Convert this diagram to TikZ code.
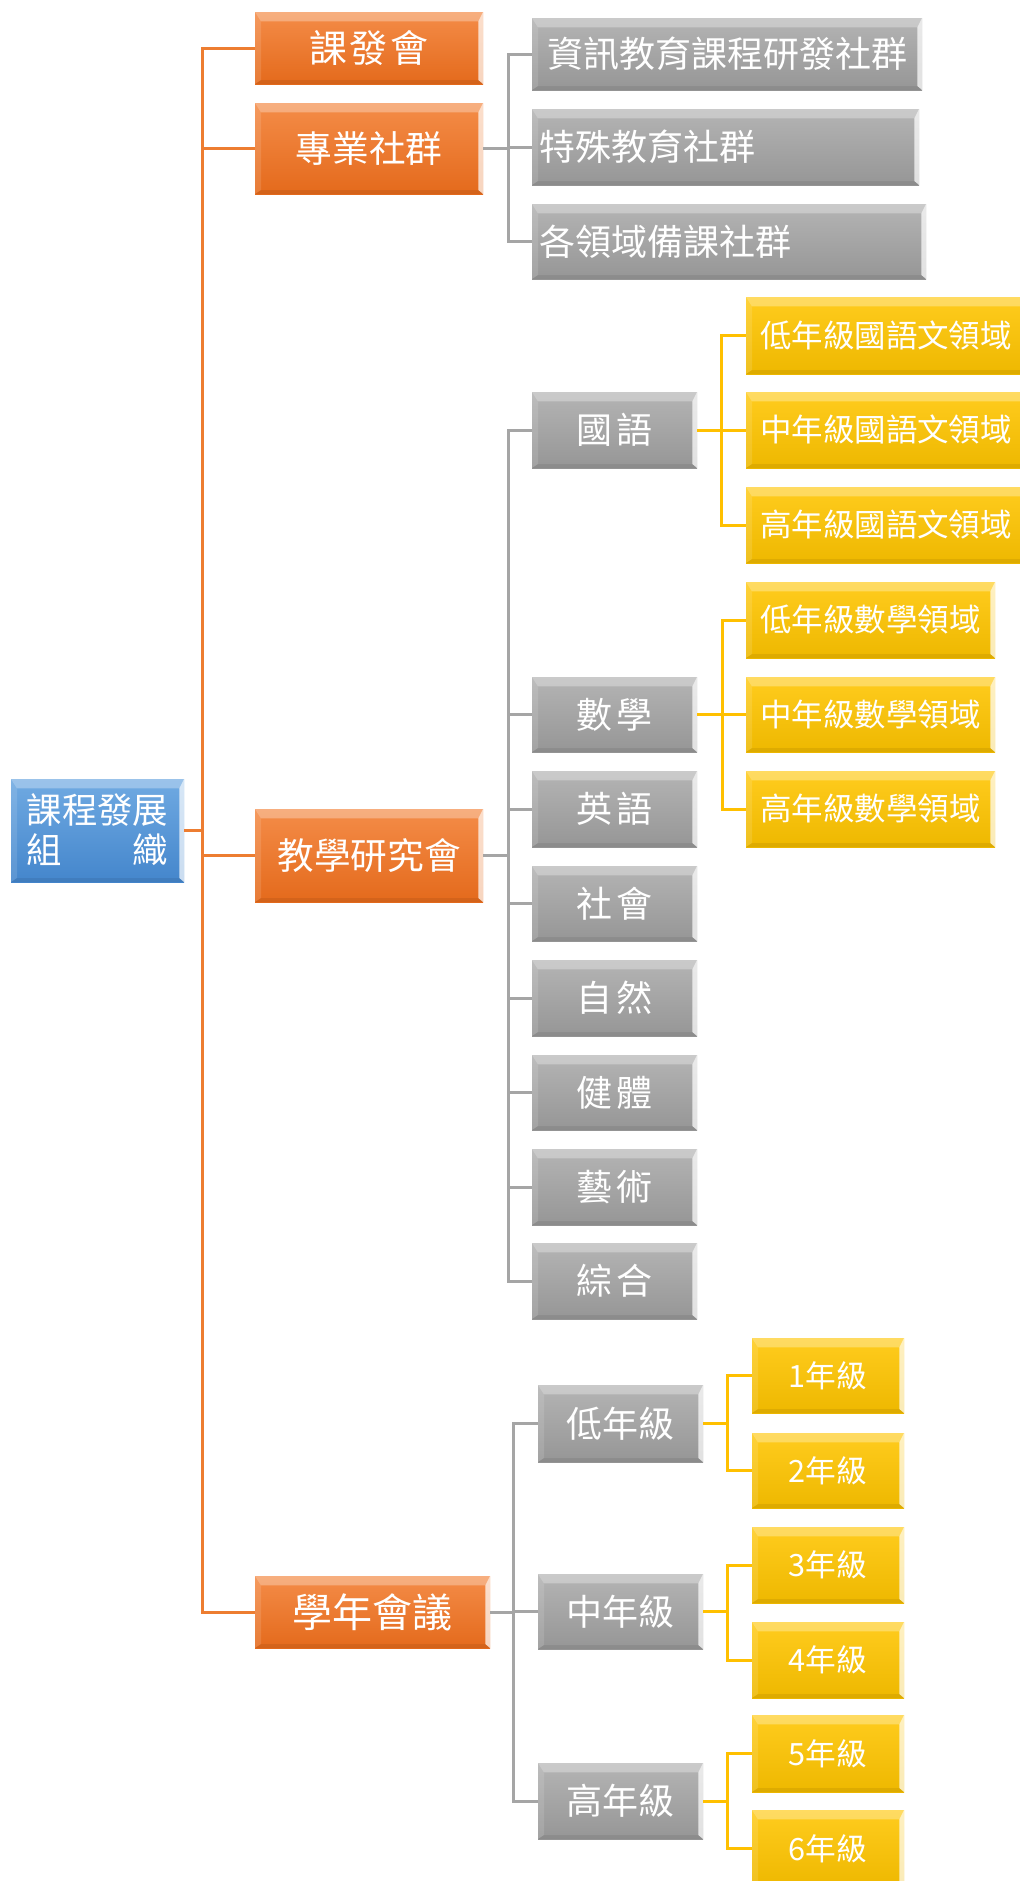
\documentclass[tikz,border=0pt]{standalone}
\usepackage{fontspec}
\newfontfamily\cjk{Noto Sans CJK TC}
\definecolor{oTop}{RGB}{244,140,72}
\definecolor{oBot}{RGB}{228,106,28}
\definecolor{gTop}{RGB}{180,180,180}
\definecolor{gBot}{RGB}{150,150,150}
\definecolor{yTop}{RGB}{255,204,30}
\definecolor{yBot}{RGB}{238,184,0}
\definecolor{bTop}{RGB}{112,170,226}
\definecolor{bBot}{RGB}{68,134,204}
\definecolor{oLine}{RGB}{237,125,49}
\definecolor{gLine}{RGB}{165,165,165}
\definecolor{yLine}{RGB}{255,192,0}
\tikzset{
  bevel/.style={path picture={
    \path (path picture bounding box.north west) coordinate (bvNW)
          (path picture bounding box.north east) coordinate (bvNE)
          (path picture bounding box.south west) coordinate (bvSW)
          (path picture bounding box.south east) coordinate (bvSE);
    \fill[white,opacity=.30] (bvNW) -- (bvNE) -- ([shift={(-3.5pt,-7pt)}]bvNE) -- ([shift={(4.5pt,-7pt)}]bvNW) -- cycle;
    \fill[white,opacity=.12] (bvNW) -- ([shift={(4.5pt,-7pt)}]bvNW) -- ([shift={(4.5pt,3pt)}]bvSW) -- (bvSW) -- cycle;
    \fill[white,opacity=.72] (bvNE) -- ([shift={(-3.5pt,-7pt)}]bvNE) -- ([shift={(-3.5pt,3pt)}]bvSE) -- (bvSE) -- cycle;
    \fill[black,opacity=.07] (bvSW) -- ([shift={(4.5pt,3pt)}]bvSW) -- ([shift={(-3.5pt,3pt)}]bvSE) -- (bvSE) -- cycle;
  }},
  rc/.style args={#1,#2,#3,#4}{at={({(#1+#3)/2},{(#2+#4)/2})}, anchor=center,
    minimum width={(#3-#1)*0.75pt}, minimum height={(#4-#2)*0.75pt}},
  fsz/.style={font=\cjk\fontsize{#1pt}{#1pt}\selectfont, text height={0.84*#1pt}, text depth={0.08*#1pt}},
  box/.style={rectangle, inner sep=0pt, text=white, bevel},
  rootbox/.style={box, top color=bTop, bottom color=bBot,
    font=\cjk\fontsize{26.6pt}{30pt}\selectfont, text height={15pt+0.84*26.6pt}, text depth={15pt+0.08*26.6pt}},
  obox/.style={box, top color=oTop, bottom color=oBot, fsz=27.5},
  gbox/.style={box, top color=gTop, bottom color=gBot, fsz=27},
  ybox/.style={box, top color=yTop, bottom color=yBot, fsz=23.6},
  kbox/.style={box, top color=yTop, bottom color=yBot, fsz=23},
  conn/.style={line width=2.25pt},
  oline/.style={conn, draw=oLine},
  gline/.style={conn, draw=gLine},
  yline/.style={conn, draw=yLine}
}
\begin{document}
\begin{tikzpicture}[x=0.75pt,y=-0.75pt]
\useasboundingbox (0,0) rectangle (1020,1881);
\clip (0,0) rectangle (1020,1881);

% root
\node[rootbox, rc={11,779,184,882}] (root) {\raisebox{15pt}{課程發展}\llap{\raisebox{-15pt}{組　　織}}};

% level 1 (orange)
\node[obox, rc={255,12,483,84}, fsz=28.5] (kfh) {課\kern2pt 發\kern2pt 會};
\node[obox, rc={255,103,483,194}] (zy) {專業社群};
\node[obox, rc={255,809,483,902}] (jx) {教學研究會};
\node[obox, rc={255,1576,490,1648}, fsz=30] (xn) {學年會議};

% communities (grey)
\node[gbox, rc={532,18,922,90}] (c1) {資訊教育課程研發社群};
\node[gbox, rc={532,109,919,185}, text width=279.75pt, align=left] (c2) {特殊教育社群};
\node[gbox, rc={532,204,926,279}, text width=285pt, align=left] (c3) {各領域備課社群};

% subjects (grey)
\node[gbox, rc={532,392,697,468}] (s1) {國\kern3pt 語};
\node[gbox, rc={532,677,697,752}] (s2) {數\kern3pt 學};
\node[gbox, rc={532,771,697,847}] (s3) {英\kern3pt 語};
\node[gbox, rc={532,866,697,941}] (s4) {社\kern3pt 會};
\node[gbox, rc={532,960,697,1036}] (s5) {自\kern3pt 然};
\node[gbox, rc={532,1055,697,1130}] (s6) {健\kern3pt 體};
\node[gbox, rc={532,1149,697,1225}] (s7) {藝\kern3pt 術};
\node[gbox, rc={532,1243,697,1319}] (s8) {綜\kern3pt 合};

% chinese fields (yellow)
\node[ybox, rc={746,297,1026,374}] (y1) {低年級國語文領域};
\node[ybox, rc={746,392,1026,468}] (y2) {中年級國語文領域};
\node[ybox, rc={746,487,1026,563}] (y3) {高年級國語文領域};

% math fields (yellow)
\node[ybox, rc={746,582,995,658}] (m1) {低年級數學領域};
\node[ybox, rc={746,677,995,752}] (m2) {中年級數學領域};
\node[ybox, rc={746,771,995,847}] (m3) {高年級數學領域};

% grade groups (grey)
\node[gbox, rc={538,1385,703,1462}] (g1) {低年級};
\node[gbox, rc={538,1574,703,1649}] (g2) {中年級};
\node[gbox, rc={538,1763,703,1839}] (g3) {高年級};

% grades (yellow)
\node[kbox, rc={752,1338,904,1413}] (k1) {1年級};
\node[kbox, rc={752,1433,904,1508}] (k2) {2年級};
\node[kbox, rc={752,1527,904,1603}] (k3) {3年級};
\node[kbox, rc={752,1622,904,1698}] (k4) {4年級};
\node[kbox, rc={752,1715,904,1792}] (k5) {5年級};
\node[kbox, rc={752,1810,904,1887}] (k6) {6年級};

% connectors
\coordinate (tk) at (202,830.5);
\draw[oline] (root.east) -- (tk);
\foreach \n in {kfh,zy,jx,xn} \draw[oline] (tk) |- (\n.west);

\draw[gline] (zy.east) -- (508,148.5) coordinate (zyc);
\foreach \n in {c1,c2,c3} \draw[gline] (zyc) |- (\n.west);

\draw[gline] (jx.east) -- (508,855.5) coordinate (jxc);
\foreach \n in {s1,s2,s3,s4,s5,s6,s7,s8} \draw[gline] (jxc) |- (\n.west);

\draw[yline] (s1.east) -- ++(24,0) coordinate (s1c);
\foreach \n in {y1,y2,y3} \draw[yline] (s1c) |- (\n.west);

\draw[yline] (s2.east) -- ++(25,0) coordinate (s2c);
\foreach \n in {m1,m2,m3} \draw[yline] (s2c) |- (\n.west);

\draw[gline] (xn.east) -- (513,1612) coordinate (xnc);
\foreach \n in {g1,g2,g3} \draw[gline] (xnc) |- (\n.west);

\draw[yline] (g1.east) -- ++(24,0) coordinate (g1c);
\foreach \n in {k1,k2} \draw[yline] (g1c) |- (\n.west);
\draw[yline] (g2.east) -- ++(24,0) coordinate (g2c);
\foreach \n in {k3,k4} \draw[yline] (g2c) |- (\n.west);
\draw[yline] (g3.east) -- ++(24,0) coordinate (g3c);
\foreach \n in {k5,k6} \draw[yline] (g3c) |- (\n.west);
\end{tikzpicture}
\end{document}
